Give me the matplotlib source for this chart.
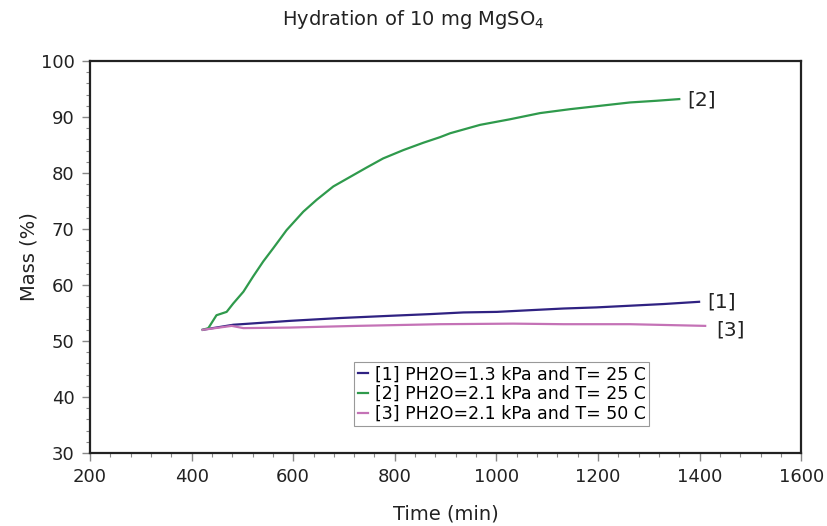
import numpy as np
import matplotlib.pyplot as plt
from matplotlib.ticker import MultipleLocator

# Series (time in min, mass in %)
t1 = [422, 482, 594, 692, 791, 869, 935, 1001, 1066, 1132, 1197, 1263, 1329, 1399]
m1 = [52.0, 52.9, 53.6, 54.1, 54.5, 54.8, 55.1, 55.2, 55.5, 55.8, 56.0, 56.3, 56.6, 57.0]

t2 = [422, 433, 449, 469, 482, 502, 521, 541, 561, 587, 620, 646, 679, 712, 745,
      777, 817, 856, 889, 909, 968, 1027, 1086, 1145, 1204, 1263, 1315, 1360]
m2 = [52.0, 52.3, 54.6, 55.2, 56.7, 58.8, 61.5, 64.2, 66.6, 69.8, 73.1, 75.2, 77.6, 79.3, 81.0,
      82.6, 84.1, 85.4, 86.4, 87.1, 88.6, 89.6, 90.7, 91.4, 92.0, 92.6, 92.9, 93.2]

t3 = [422, 479, 502, 594, 725, 889, 1033, 1132, 1263, 1411]
m3 = [52.0, 52.7, 52.3, 52.4, 52.7, 53.0, 53.1, 53.0, 53.0, 52.7]

labels = ['[1] PH2O=1.3 kPa and T= 25 C',
          '[2] PH2O=2.1 kPa and T= 25 C',
          '[3] PH2O=2.1 kPa and T= 50 C']
colors = ['#2f2282', '#2f9a4c', '#c472b6']

fig = plt.figure(figsize=(8.27, 5.26), dpi=100)
ax = fig.add_axes([0.1088, 0.1388, 0.86, 0.7452])

ax.plot(t1, m1, color=colors[0], lw=1.6, label=labels[0])
ax.plot(t2, m2, color=colors[1], lw=1.6, label=labels[1])
ax.plot(t3, m3, color=colors[2], lw=1.6, label=labels[2])

# end-of-curve tags
ax.text(t2[-1] + 15, m2[-1] - 0.1, '[2]', fontsize=14.5, va='center', ha='left', color='#222222')
ax.text(t1[-1] + 17, m1[-1] - 0.1, '[1]', fontsize=14.5, va='center', ha='left', color='#222222')
ax.text(t3[-1] + 22, m3[-1] - 0.7, '[3]', fontsize=14.5, va='center', ha='left', color='#222222')

ax.set_xlim(200, 1600)
ax.set_ylim(30, 100)
ax.xaxis.set_major_locator(MultipleLocator(200))
ax.xaxis.set_minor_locator(MultipleLocator(40))
ax.yaxis.set_major_locator(MultipleLocator(10))
ax.yaxis.set_minor_locator(MultipleLocator(2))
ax.tick_params(which='major', direction='out', length=6, width=1, colors='#888888',
               labelsize=13, labelcolor='#222222', pad=5)
ax.tick_params(which='minor', direction='out', length=3, width=0.8, colors='#888888')

for s in ax.spines.values():
    s.set_linewidth(1.6)
    s.set_color('#222222')

ax.set_xlabel('Time (min)', fontsize=14, color='#222222', labelpad=13)
ax.set_ylabel('Mass (%)', fontsize=14, color='#222222', labelpad=2)
fig.text(0.5, 0.963, 'Hydration of 10 mg MgSO$_4$', ha='center', va='center',
         fontsize=14, color='#222222')

leg = ax.legend(loc='lower center', bbox_to_anchor=(0.579, 0.068), fontsize=12.5,
                handlelength=0.6, handletextpad=0.4, borderpad=0.2, labelspacing=0.1,
                fancybox=False, framealpha=1, borderaxespad=0)
leg.get_frame().set_edgecolor('#999999')
leg.get_frame().set_linewidth(0.8)

plt.savefig('out.png', dpi=100)
